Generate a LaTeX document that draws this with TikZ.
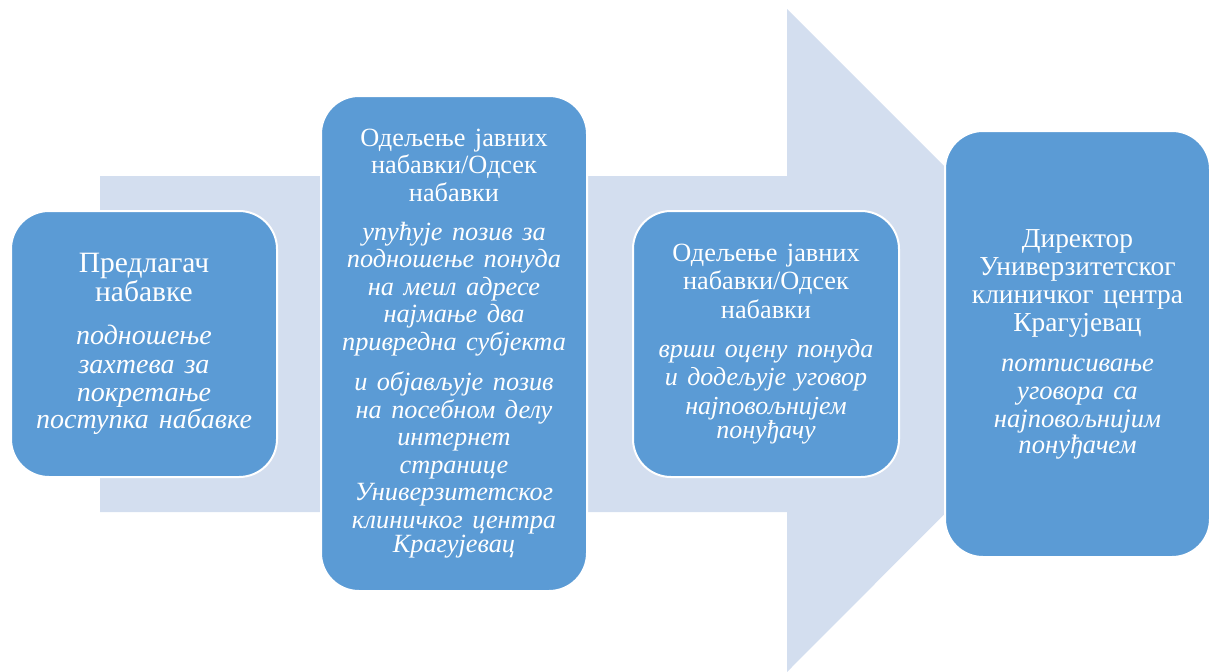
\documentclass[tikz,border=0pt]{standalone}
\usepackage{fontspec}
\setmainfont{Liberation Serif}
\usetikzlibrary{shapes}
\definecolor{boxblue}{HTML}{5B9BD5}
\definecolor{flowblue}{HTML}{D3DEEF}
\tikzstyle{stage} = [rectangle, draw=white, line width=2pt, fill=boxblue,
  text=white, rounded corners=38pt, minimum width=266pt, text width=262pt,
  align=center, inner sep=0pt]
\tikzstyle{flow} = [fill=flowblue]
\newcommand{\fs}[2]{\fontsize{#1}{#2}\selectfont\spaceskip=0.36em\relax}

\begin{document}
\begin{tikzpicture}[x=1pt, y=-1pt]

  \useasboundingbox (0,0) rectangle (1211,672);

  % big arrow in the back
  \path [flow] (100,176) -- (787,176) -- (787,9) -- (1118,340)
    -- (787,672) -- (787,512) -- (100,512) -- cycle;

  \node [stage, minimum height=266pt] (proposer) at (144,344)
    {\fs{29.5}{28.7}Предлагач\\набавке\\[14.5pt]
     \fs{28}{28.7}\itshape подношење\\захтева за\\покретање\\поступка набавке};
  \node [stage, minimum height=495pt] (invite) at (454,343.5)
    {\fs{26.3}{27.6}Одељење јавних\\набавки/Одсек\\набавки\\[11pt]
     \itshape упућује позив за\\подношење понуда\\на меил адресе\\најмање два\\привредна субјекта\\[12.5pt]
     и објављује позив\\на посебном делу\\интернет\\странице\\Универзитетског\\клиничког центра\\Крагујевац};
  \node [stage, minimum height=266pt] (evaluate) at (766,344)
    {\fs{26.3}{28.5}Одељење јавних\\набавки/Одсек\\набавки\\[10.5pt]
     \fs{26}{28.5}\itshape врши оцену понуда\\и додељује уговор\\најповољнијем\\понуђачу};
  \node [stage, minimum width=265pt, minimum height=426pt] (director) at (1077.5,344)
    {\fs{27.4}{28.2}Директор\\Универзитетског\\клиничког центра\\Крагујевац\\[11.5pt]
     \fs{26.6}{28.2}\itshape потписивање\\уговора са\\најповољнијим\\понуђачем};

\end{tikzpicture}
\end{document}
